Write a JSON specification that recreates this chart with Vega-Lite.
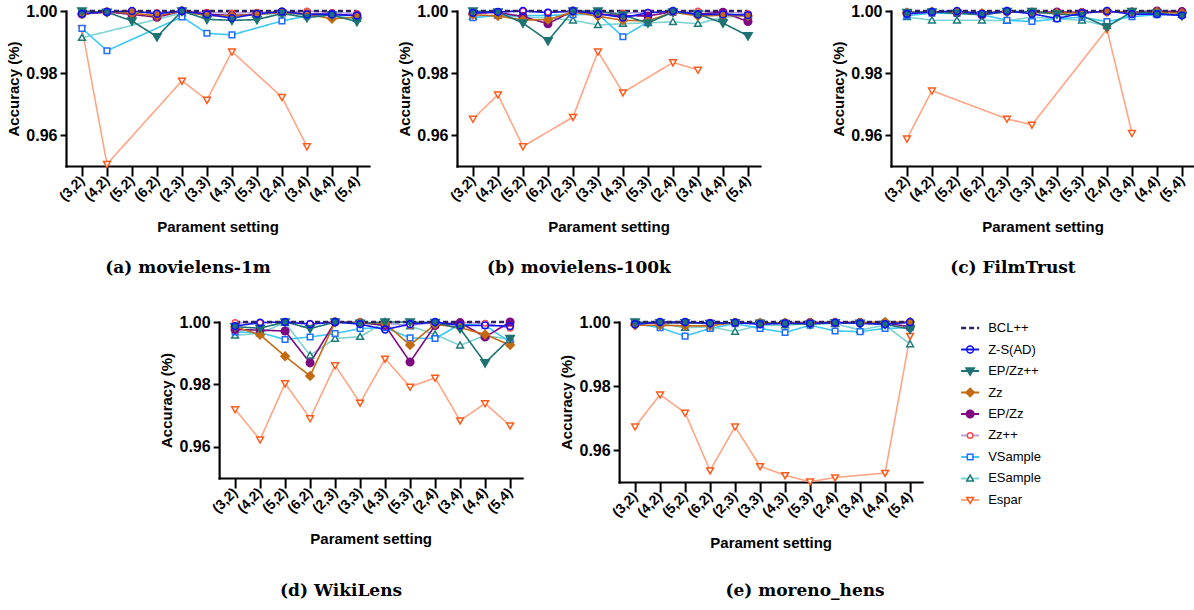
{
"$schema":"https://vega.github.io/schema/vega-lite/v6.json",
"padding":{"left":6,"top":3,"right":2,"bottom":2},
"background":"white",
"config":{"font":"Liberation Sans","view":{"stroke":null},
"axis":{"grid":false,"domainColor":"black","domainWidth":2.2,"domainCap":"square","tickColor":"black","tickWidth":2,"labelFont":"Liberation Sans","labelFontWeight":"bold","labelColor":"black","titleFont":"Liberation Sans","titleFontWeight":"bold","titleColor":"black"},
"axisX":{"tickSize":10,"labelAngle":-45,"labelAlign":"right","labelBaseline":"middle","labelFontSize":14,"labelPadding":2,"titleFontSize":15,"titlePadding":16},
"axisY":{"tickSize":6,"labelFontSize":16,"labelPadding":3,"titleFontSize":15,"titlePadding":4}},
"data":{"values":[
{"p":"a","s":"Espar","x":"(3,2)","v":0.9944},{"p":"a","s":"Espar","x":"(4,2)","v":0.9506},{"p":"a","s":"Espar","x":"(2,3)","v":0.9775},{"p":"a","s":"Espar","x":"(3,3)","v":0.9713},{"p":"a","s":"Espar","x":"(4,3)","v":0.9869},{"p":"a","s":"Espar","x":"(2,4)","v":0.9722},{"p":"a","s":"Espar","x":"(3,4)","v":0.9563},
{"p":"a","s":"ESample","x":"(3,2)","v":0.9914},{"p":"a","s":"ESample","x":"(2,3)","v":0.9993},{"p":"a","s":"ESample","x":"(3,3)","v":0.9988},{"p":"a","s":"ESample","x":"(4,3)","v":0.9986},{"p":"a","s":"ESample","x":"(5,3)","v":0.9988},{"p":"a","s":"ESample","x":"(2,4)","v":0.9993},{"p":"a","s":"ESample","x":"(3,4)","v":0.9988},{"p":"a","s":"ESample","x":"(4,4)","v":0.9986},{"p":"a","s":"ESample","x":"(5,4)","v":0.9975},
{"p":"a","s":"VSample","x":"(3,2)","v":0.9944},{"p":"a","s":"VSample","x":"(4,2)","v":0.9872},{"p":"a","s":"VSample","x":"(2,3)","v":0.9981},{"p":"a","s":"VSample","x":"(3,3)","v":0.9928},{"p":"a","s":"VSample","x":"(4,3)","v":0.9923},{"p":"a","s":"VSample","x":"(2,4)","v":0.9968},{"p":"a","s":"VSample","x":"(3,4)","v":0.9984},{"p":"a","s":"VSample","x":"(4,4)","v":0.9988},{"p":"a","s":"VSample","x":"(5,4)","v":0.9985},
{"p":"a","s":"Zz++","x":"(3,2)","v":0.9993},{"p":"a","s":"Zz++","x":"(4,2)","v":0.9998},{"p":"a","s":"Zz++","x":"(5,2)","v":0.9998},{"p":"a","s":"Zz++","x":"(6,2)","v":0.9995},{"p":"a","s":"Zz++","x":"(2,3)","v":1.0},{"p":"a","s":"Zz++","x":"(3,3)","v":0.9996},{"p":"a","s":"Zz++","x":"(4,3)","v":0.9993},{"p":"a","s":"Zz++","x":"(5,3)","v":0.9996},{"p":"a","s":"Zz++","x":"(2,4)","v":0.9998},{"p":"a","s":"Zz++","x":"(3,4)","v":1.0},{"p":"a","s":"Zz++","x":"(4,4)","v":0.9995},{"p":"a","s":"Zz++","x":"(5,4)","v":0.9992},
{"p":"a","s":"EP/Zz","x":"(3,2)","v":0.999},{"p":"a","s":"EP/Zz","x":"(4,2)","v":0.9997},{"p":"a","s":"EP/Zz","x":"(5,2)","v":0.9989},{"p":"a","s":"EP/Zz","x":"(6,2)","v":0.998},{"p":"a","s":"EP/Zz","x":"(2,3)","v":1.0},{"p":"a","s":"EP/Zz","x":"(3,3)","v":0.999},{"p":"a","s":"EP/Zz","x":"(4,3)","v":0.9985},{"p":"a","s":"EP/Zz","x":"(5,3)","v":0.999},{"p":"a","s":"EP/Zz","x":"(2,4)","v":0.9997},{"p":"a","s":"EP/Zz","x":"(3,4)","v":0.999},{"p":"a","s":"EP/Zz","x":"(4,4)","v":0.999},{"p":"a","s":"EP/Zz","x":"(5,4)","v":0.9985},
{"p":"a","s":"Zz","x":"(3,2)","v":0.999},{"p":"a","s":"Zz","x":"(4,2)","v":0.9997},{"p":"a","s":"Zz","x":"(5,2)","v":0.9993},{"p":"a","s":"Zz","x":"(6,2)","v":0.9985},{"p":"a","s":"Zz","x":"(2,3)","v":1.0},{"p":"a","s":"Zz","x":"(3,3)","v":0.9985},{"p":"a","s":"Zz","x":"(4,3)","v":0.9984},{"p":"a","s":"Zz","x":"(5,3)","v":0.999},{"p":"a","s":"Zz","x":"(2,4)","v":0.9995},{"p":"a","s":"Zz","x":"(3,4)","v":0.999},{"p":"a","s":"Zz","x":"(4,4)","v":0.9975},{"p":"a","s":"Zz","x":"(5,4)","v":0.998},
{"p":"a","s":"EP/Zz++","x":"(3,2)","v":1.0},{"p":"a","s":"EP/Zz++","x":"(4,2)","v":0.9996},{"p":"a","s":"EP/Zz++","x":"(5,2)","v":0.9968},{"p":"a","s":"EP/Zz++","x":"(6,2)","v":0.9917},{"p":"a","s":"EP/Zz++","x":"(2,3)","v":1.0},{"p":"a","s":"EP/Zz++","x":"(3,3)","v":0.9973},{"p":"a","s":"EP/Zz++","x":"(4,3)","v":0.997},{"p":"a","s":"EP/Zz++","x":"(5,3)","v":0.9972},{"p":"a","s":"EP/Zz++","x":"(2,4)","v":0.9992},{"p":"a","s":"EP/Zz++","x":"(3,4)","v":0.9979},{"p":"a","s":"EP/Zz++","x":"(4,4)","v":0.9987},{"p":"a","s":"EP/Zz++","x":"(5,4)","v":0.9966},
{"p":"a","s":"Z-S(AD)","x":"(3,2)","v":0.9991},{"p":"a","s":"Z-S(AD)","x":"(4,2)","v":0.9997},{"p":"a","s":"Z-S(AD)","x":"(5,2)","v":1.0},{"p":"a","s":"Z-S(AD)","x":"(6,2)","v":0.9991},{"p":"a","s":"Z-S(AD)","x":"(2,3)","v":1.0},{"p":"a","s":"Z-S(AD)","x":"(3,3)","v":0.9989},{"p":"a","s":"Z-S(AD)","x":"(4,3)","v":0.9977},{"p":"a","s":"Z-S(AD)","x":"(5,3)","v":0.9991},{"p":"a","s":"Z-S(AD)","x":"(2,4)","v":0.9998},{"p":"a","s":"Z-S(AD)","x":"(3,4)","v":0.9989},{"p":"a","s":"Z-S(AD)","x":"(4,4)","v":0.9989},{"p":"a","s":"Z-S(AD)","x":"(5,4)","v":0.9985},
{"p":"a","s":"BCL++","x":"(3,2)","v":1.0},{"p":"a","s":"BCL++","x":"(4,2)","v":1.0},{"p":"a","s":"BCL++","x":"(5,2)","v":1.0},{"p":"a","s":"BCL++","x":"(6,2)","v":1.0},{"p":"a","s":"BCL++","x":"(2,3)","v":1.0},{"p":"a","s":"BCL++","x":"(3,3)","v":1.0},{"p":"a","s":"BCL++","x":"(4,3)","v":1.0},{"p":"a","s":"BCL++","x":"(5,3)","v":1.0},{"p":"a","s":"BCL++","x":"(2,4)","v":1.0},{"p":"a","s":"BCL++","x":"(3,4)","v":1.0},{"p":"a","s":"BCL++","x":"(4,4)","v":1.0},{"p":"a","s":"BCL++","x":"(5,4)","v":1.0},

{"p":"b","s":"Espar","x":"(3,2)","v":0.9652},{"p":"b","s":"Espar","x":"(4,2)","v":0.973},{"p":"b","s":"Espar","x":"(5,2)","v":0.9563},{"p":"b","s":"Espar","x":"(2,3)","v":0.9658},{"p":"b","s":"Espar","x":"(3,3)","v":0.9869},{"p":"b","s":"Espar","x":"(4,3)","v":0.9737},{"p":"b","s":"Espar","x":"(2,4)","v":0.9834},{"p":"b","s":"Espar","x":"(3,4)","v":0.981},
{"p":"b","s":"ESample","x":"(3,2)","v":0.9982},{"p":"b","s":"ESample","x":"(4,2)","v":0.9986},{"p":"b","s":"ESample","x":"(5,2)","v":0.998},{"p":"b","s":"ESample","x":"(6,2)","v":0.9978},{"p":"b","s":"ESample","x":"(2,3)","v":0.997},{"p":"b","s":"ESample","x":"(3,3)","v":0.9955},{"p":"b","s":"ESample","x":"(4,3)","v":0.9959},{"p":"b","s":"ESample","x":"(5,3)","v":0.9962},{"p":"b","s":"ESample","x":"(2,4)","v":0.9965},{"p":"b","s":"ESample","x":"(3,4)","v":0.9959},{"p":"b","s":"ESample","x":"(4,4)","v":0.998},{"p":"b","s":"ESample","x":"(5,4)","v":0.9985},
{"p":"b","s":"VSample","x":"(3,2)","v":0.9978},{"p":"b","s":"VSample","x":"(4,2)","v":0.9986},{"p":"b","s":"VSample","x":"(5,2)","v":0.9985},{"p":"b","s":"VSample","x":"(6,2)","v":0.9986},{"p":"b","s":"VSample","x":"(2,3)","v":0.9988},{"p":"b","s":"VSample","x":"(3,3)","v":0.999},{"p":"b","s":"VSample","x":"(4,3)","v":0.9917},{"p":"b","s":"VSample","x":"(5,3)","v":0.9965},{"p":"b","s":"VSample","x":"(2,4)","v":0.9995},{"p":"b","s":"VSample","x":"(3,4)","v":0.999},{"p":"b","s":"VSample","x":"(4,4)","v":0.999},{"p":"b","s":"VSample","x":"(5,4)","v":0.9988},
{"p":"b","s":"Zz++","x":"(3,2)","v":0.9995},{"p":"b","s":"Zz++","x":"(4,2)","v":0.9998},{"p":"b","s":"Zz++","x":"(5,2)","v":1.0},{"p":"b","s":"Zz++","x":"(6,2)","v":0.9996},{"p":"b","s":"Zz++","x":"(2,3)","v":0.9998},{"p":"b","s":"Zz++","x":"(3,3)","v":0.9996},{"p":"b","s":"Zz++","x":"(4,3)","v":0.9993},{"p":"b","s":"Zz++","x":"(5,3)","v":0.9996},{"p":"b","s":"Zz++","x":"(2,4)","v":0.9998},{"p":"b","s":"Zz++","x":"(3,4)","v":1.0},{"p":"b","s":"Zz++","x":"(4,4)","v":0.9997},{"p":"b","s":"Zz++","x":"(5,4)","v":0.9992},
{"p":"b","s":"EP/Zz","x":"(3,2)","v":0.9993},{"p":"b","s":"EP/Zz","x":"(4,2)","v":0.9995},{"p":"b","s":"EP/Zz","x":"(5,2)","v":0.9982},{"p":"b","s":"EP/Zz","x":"(6,2)","v":0.9959},{"p":"b","s":"EP/Zz","x":"(2,3)","v":1.0},{"p":"b","s":"EP/Zz","x":"(3,3)","v":0.999},{"p":"b","s":"EP/Zz","x":"(4,3)","v":0.9985},{"p":"b","s":"EP/Zz","x":"(5,3)","v":0.9984},{"p":"b","s":"EP/Zz","x":"(2,4)","v":0.9998},{"p":"b","s":"EP/Zz","x":"(3,4)","v":0.999},{"p":"b","s":"EP/Zz","x":"(4,4)","v":0.9996},{"p":"b","s":"EP/Zz","x":"(5,4)","v":0.9966},
{"p":"b","s":"Zz","x":"(3,2)","v":0.9988},{"p":"b","s":"Zz","x":"(4,2)","v":0.9984},{"p":"b","s":"Zz","x":"(5,2)","v":0.9971},{"p":"b","s":"Zz","x":"(6,2)","v":0.9972},{"p":"b","s":"Zz","x":"(2,3)","v":0.9997},{"p":"b","s":"Zz","x":"(3,3)","v":0.9983},{"p":"b","s":"Zz","x":"(4,3)","v":0.997},{"p":"b","s":"Zz","x":"(5,3)","v":0.9968},{"p":"b","s":"Zz","x":"(2,4)","v":0.9996},{"p":"b","s":"Zz","x":"(3,4)","v":0.9984},{"p":"b","s":"Zz","x":"(4,4)","v":0.9986},{"p":"b","s":"Zz","x":"(5,4)","v":0.9984},
{"p":"b","s":"EP/Zz++","x":"(3,2)","v":1.0},{"p":"b","s":"EP/Zz++","x":"(4,2)","v":0.9997},{"p":"b","s":"EP/Zz++","x":"(5,2)","v":0.9961},{"p":"b","s":"EP/Zz++","x":"(6,2)","v":0.9904},{"p":"b","s":"EP/Zz++","x":"(2,3)","v":1.0},{"p":"b","s":"EP/Zz++","x":"(3,3)","v":1.0},{"p":"b","s":"EP/Zz++","x":"(4,3)","v":0.9987},{"p":"b","s":"EP/Zz++","x":"(5,3)","v":0.9961},{"p":"b","s":"EP/Zz++","x":"(2,4)","v":0.9997},{"p":"b","s":"EP/Zz++","x":"(3,4)","v":0.999},{"p":"b","s":"EP/Zz++","x":"(4,4)","v":0.9961},{"p":"b","s":"EP/Zz++","x":"(5,4)","v":0.992},
{"p":"b","s":"Z-S(AD)","x":"(3,2)","v":0.9994},{"p":"b","s":"Z-S(AD)","x":"(4,2)","v":0.9997},{"p":"b","s":"Z-S(AD)","x":"(5,2)","v":1.0},{"p":"b","s":"Z-S(AD)","x":"(6,2)","v":0.9995},{"p":"b","s":"Z-S(AD)","x":"(2,3)","v":1.0},{"p":"b","s":"Z-S(AD)","x":"(3,3)","v":0.9991},{"p":"b","s":"Z-S(AD)","x":"(4,3)","v":0.9979},{"p":"b","s":"Z-S(AD)","x":"(5,3)","v":0.9994},{"p":"b","s":"Z-S(AD)","x":"(2,4)","v":1.0},{"p":"b","s":"Z-S(AD)","x":"(3,4)","v":0.9989},{"p":"b","s":"Z-S(AD)","x":"(4,4)","v":0.9989},{"p":"b","s":"Z-S(AD)","x":"(5,4)","v":0.9987},
{"p":"b","s":"BCL++","x":"(3,2)","v":1.0},{"p":"b","s":"BCL++","x":"(4,2)","v":1.0},{"p":"b","s":"BCL++","x":"(5,2)","v":1.0},{"p":"b","s":"BCL++","x":"(6,2)","v":1.0},{"p":"b","s":"BCL++","x":"(2,3)","v":1.0},{"p":"b","s":"BCL++","x":"(3,3)","v":1.0},{"p":"b","s":"BCL++","x":"(4,3)","v":1.0},{"p":"b","s":"BCL++","x":"(5,3)","v":1.0},{"p":"b","s":"BCL++","x":"(2,4)","v":1.0},{"p":"b","s":"BCL++","x":"(3,4)","v":1.0},{"p":"b","s":"BCL++","x":"(4,4)","v":1.0},{"p":"b","s":"BCL++","x":"(5,4)","v":1.0},

{"p":"c","s":"Espar","x":"(3,2)","v":0.9588},{"p":"c","s":"Espar","x":"(4,2)","v":0.9743},{"p":"c","s":"Espar","x":"(2,3)","v":0.9652},{"p":"c","s":"Espar","x":"(3,3)","v":0.9633},{"p":"c","s":"Espar","x":"(2,4)","v":0.9941},{"p":"c","s":"Espar","x":"(3,4)","v":0.9606},
{"p":"c","s":"ESample","x":"(3,2)","v":0.9981},{"p":"c","s":"ESample","x":"(4,2)","v":0.997},{"p":"c","s":"ESample","x":"(5,2)","v":0.997},{"p":"c","s":"ESample","x":"(6,2)","v":0.997},{"p":"c","s":"ESample","x":"(2,3)","v":0.9969},{"p":"c","s":"ESample","x":"(3,3)","v":0.998},{"p":"c","s":"ESample","x":"(4,3)","v":0.9975},{"p":"c","s":"ESample","x":"(5,3)","v":0.997},{"p":"c","s":"ESample","x":"(2,4)","v":0.9952},{"p":"c","s":"ESample","x":"(3,4)","v":0.9992},{"p":"c","s":"ESample","x":"(4,4)","v":0.9992},{"p":"c","s":"ESample","x":"(5,4)","v":0.9988},
{"p":"c","s":"VSample","x":"(3,2)","v":0.9985},{"p":"c","s":"VSample","x":"(4,2)","v":0.9993},{"p":"c","s":"VSample","x":"(5,2)","v":0.9992},{"p":"c","s":"VSample","x":"(6,2)","v":0.9988},{"p":"c","s":"VSample","x":"(2,3)","v":0.997},{"p":"c","s":"VSample","x":"(3,3)","v":0.9966},{"p":"c","s":"VSample","x":"(4,3)","v":0.9975},{"p":"c","s":"VSample","x":"(5,3)","v":0.998},{"p":"c","s":"VSample","x":"(2,4)","v":0.9966},{"p":"c","s":"VSample","x":"(3,4)","v":0.9982},{"p":"c","s":"VSample","x":"(4,4)","v":0.9988},{"p":"c","s":"VSample","x":"(5,4)","v":0.9988},
{"p":"c","s":"Zz++","x":"(3,2)","v":0.9996},{"p":"c","s":"Zz++","x":"(4,2)","v":0.9998},{"p":"c","s":"Zz++","x":"(5,2)","v":0.9998},{"p":"c","s":"Zz++","x":"(6,2)","v":0.9995},{"p":"c","s":"Zz++","x":"(2,3)","v":0.9998},{"p":"c","s":"Zz++","x":"(3,3)","v":0.9996},{"p":"c","s":"Zz++","x":"(4,3)","v":0.9995},{"p":"c","s":"Zz++","x":"(5,3)","v":0.9996},{"p":"c","s":"Zz++","x":"(2,4)","v":0.9998},{"p":"c","s":"Zz++","x":"(3,4)","v":0.9997},{"p":"c","s":"Zz++","x":"(4,4)","v":1.0},{"p":"c","s":"Zz++","x":"(5,4)","v":0.9985},
{"p":"c","s":"EP/Zz","x":"(3,2)","v":0.9993},{"p":"c","s":"EP/Zz","x":"(4,2)","v":0.9997},{"p":"c","s":"EP/Zz","x":"(5,2)","v":0.9995},{"p":"c","s":"EP/Zz","x":"(6,2)","v":0.9988},{"p":"c","s":"EP/Zz","x":"(2,3)","v":0.9998},{"p":"c","s":"EP/Zz","x":"(3,3)","v":0.9995},{"p":"c","s":"EP/Zz","x":"(4,3)","v":0.9997},{"p":"c","s":"EP/Zz","x":"(5,3)","v":0.9995},{"p":"c","s":"EP/Zz","x":"(2,4)","v":0.9998},{"p":"c","s":"EP/Zz","x":"(3,4)","v":0.9997},{"p":"c","s":"EP/Zz","x":"(4,4)","v":1.0},{"p":"c","s":"EP/Zz","x":"(5,4)","v":0.9998},
{"p":"c","s":"Zz","x":"(3,2)","v":0.9995},{"p":"c","s":"Zz","x":"(4,2)","v":0.9998},{"p":"c","s":"Zz","x":"(5,2)","v":0.9997},{"p":"c","s":"Zz","x":"(6,2)","v":0.9993},{"p":"c","s":"Zz","x":"(2,3)","v":0.9998},{"p":"c","s":"Zz","x":"(3,3)","v":0.9996},{"p":"c","s":"Zz","x":"(4,3)","v":0.9993},{"p":"c","s":"Zz","x":"(5,3)","v":0.9994},{"p":"c","s":"Zz","x":"(2,4)","v":0.9998},{"p":"c","s":"Zz","x":"(3,4)","v":0.9996},{"p":"c","s":"Zz","x":"(4,4)","v":0.9997},{"p":"c","s":"Zz","x":"(5,4)","v":0.9993},
{"p":"c","s":"EP/Zz++","x":"(3,2)","v":0.9995},{"p":"c","s":"EP/Zz++","x":"(4,2)","v":0.9997},{"p":"c","s":"EP/Zz++","x":"(5,2)","v":0.9993},{"p":"c","s":"EP/Zz++","x":"(6,2)","v":0.9988},{"p":"c","s":"EP/Zz++","x":"(2,3)","v":0.9998},{"p":"c","s":"EP/Zz++","x":"(3,3)","v":0.9998},{"p":"c","s":"EP/Zz++","x":"(4,3)","v":0.999},{"p":"c","s":"EP/Zz++","x":"(5,3)","v":0.9985},{"p":"c","s":"EP/Zz++","x":"(2,4)","v":0.9949},{"p":"c","s":"EP/Zz++","x":"(3,4)","v":0.9998},{"p":"c","s":"EP/Zz++","x":"(4,4)","v":0.9993},{"p":"c","s":"EP/Zz++","x":"(5,4)","v":0.9985},
{"p":"c","s":"Z-S(AD)","x":"(3,2)","v":0.9991},{"p":"c","s":"Z-S(AD)","x":"(4,2)","v":0.9997},{"p":"c","s":"Z-S(AD)","x":"(5,2)","v":1.0},{"p":"c","s":"Z-S(AD)","x":"(6,2)","v":0.9991},{"p":"c","s":"Z-S(AD)","x":"(2,3)","v":1.0},{"p":"c","s":"Z-S(AD)","x":"(3,3)","v":0.9991},{"p":"c","s":"Z-S(AD)","x":"(4,3)","v":0.9976},{"p":"c","s":"Z-S(AD)","x":"(5,3)","v":0.9993},{"p":"c","s":"Z-S(AD)","x":"(2,4)","v":1.0},{"p":"c","s":"Z-S(AD)","x":"(3,4)","v":0.999},{"p":"c","s":"Z-S(AD)","x":"(4,4)","v":0.999},{"p":"c","s":"Z-S(AD)","x":"(5,4)","v":0.9986},
{"p":"c","s":"BCL++","x":"(3,2)","v":1.0},{"p":"c","s":"BCL++","x":"(4,2)","v":1.0},{"p":"c","s":"BCL++","x":"(5,2)","v":1.0},{"p":"c","s":"BCL++","x":"(6,2)","v":1.0},{"p":"c","s":"BCL++","x":"(2,3)","v":1.0},{"p":"c","s":"BCL++","x":"(3,3)","v":1.0},{"p":"c","s":"BCL++","x":"(4,3)","v":1.0},{"p":"c","s":"BCL++","x":"(5,3)","v":1.0},{"p":"c","s":"BCL++","x":"(2,4)","v":1.0},{"p":"c","s":"BCL++","x":"(3,4)","v":1.0},{"p":"c","s":"BCL++","x":"(4,4)","v":1.0},{"p":"c","s":"BCL++","x":"(5,4)","v":1.0},

{"p":"d","s":"Espar","x":"(3,2)","v":0.972},{"p":"d","s":"Espar","x":"(4,2)","v":0.9623},{"p":"d","s":"Espar","x":"(5,2)","v":0.9803},{"p":"d","s":"Espar","x":"(6,2)","v":0.9691},{"p":"d","s":"Espar","x":"(2,3)","v":0.9861},{"p":"d","s":"Espar","x":"(3,3)","v":0.9741},{"p":"d","s":"Espar","x":"(4,3)","v":0.9882},{"p":"d","s":"Espar","x":"(5,3)","v":0.9792},{"p":"d","s":"Espar","x":"(2,4)","v":0.9821},{"p":"d","s":"Espar","x":"(3,4)","v":0.9684},{"p":"d","s":"Espar","x":"(4,4)","v":0.9739},{"p":"d","s":"Espar","x":"(5,4)","v":0.9668},
{"p":"d","s":"ESample","x":"(3,2)","v":0.9957},{"p":"d","s":"ESample","x":"(4,2)","v":0.9964},{"p":"d","s":"ESample","x":"(5,2)","v":0.9998},{"p":"d","s":"ESample","x":"(6,2)","v":0.9893},{"p":"d","s":"ESample","x":"(2,3)","v":0.9947},{"p":"d","s":"ESample","x":"(3,3)","v":0.9953},{"p":"d","s":"ESample","x":"(4,3)","v":1.0},{"p":"d","s":"ESample","x":"(5,3)","v":0.9987},{"p":"d","s":"ESample","x":"(2,4)","v":0.996},{"p":"d","s":"ESample","x":"(3,4)","v":0.9925},{"p":"d","s":"ESample","x":"(4,4)","v":0.9957},{"p":"d","s":"ESample","x":"(5,4)","v":0.9944},
{"p":"d","s":"VSample","x":"(3,2)","v":0.9968},{"p":"d","s":"VSample","x":"(4,2)","v":0.9966},{"p":"d","s":"VSample","x":"(5,2)","v":0.9944},{"p":"d","s":"VSample","x":"(6,2)","v":0.9952},{"p":"d","s":"VSample","x":"(2,3)","v":0.9963},{"p":"d","s":"VSample","x":"(3,3)","v":0.9979},{"p":"d","s":"VSample","x":"(4,3)","v":0.9982},{"p":"d","s":"VSample","x":"(5,3)","v":0.9949},{"p":"d","s":"VSample","x":"(2,4)","v":0.9947},{"p":"d","s":"VSample","x":"(3,4)","v":0.9993},{"p":"d","s":"VSample","x":"(4,4)","v":0.9989},{"p":"d","s":"VSample","x":"(5,4)","v":0.9936},
{"p":"d","s":"Zz++","x":"(3,2)","v":0.9998},{"p":"d","s":"Zz++","x":"(4,2)","v":0.9998},{"p":"d","s":"Zz++","x":"(5,2)","v":1.0},{"p":"d","s":"Zz++","x":"(6,2)","v":0.9996},{"p":"d","s":"Zz++","x":"(2,3)","v":1.0},{"p":"d","s":"Zz++","x":"(3,3)","v":0.9998},{"p":"d","s":"Zz++","x":"(4,3)","v":0.9995},{"p":"d","s":"Zz++","x":"(5,3)","v":0.9989},{"p":"d","s":"Zz++","x":"(2,4)","v":0.9998},{"p":"d","s":"Zz++","x":"(3,4)","v":0.9998},{"p":"d","s":"Zz++","x":"(4,4)","v":0.9996},{"p":"d","s":"Zz++","x":"(5,4)","v":0.998},
{"p":"d","s":"EP/Zz","x":"(3,2)","v":0.9976},{"p":"d","s":"EP/Zz","x":"(4,2)","v":0.9974},{"p":"d","s":"EP/Zz","x":"(5,2)","v":0.9971},{"p":"d","s":"EP/Zz","x":"(6,2)","v":0.9869},{"p":"d","s":"EP/Zz","x":"(2,3)","v":1.0},{"p":"d","s":"EP/Zz","x":"(3,3)","v":0.9998},{"p":"d","s":"EP/Zz","x":"(4,3)","v":0.9989},{"p":"d","s":"EP/Zz","x":"(5,3)","v":0.9872},{"p":"d","s":"EP/Zz","x":"(2,4)","v":0.9989},{"p":"d","s":"EP/Zz","x":"(3,4)","v":0.9998},{"p":"d","s":"EP/Zz","x":"(4,4)","v":0.9952},{"p":"d","s":"EP/Zz","x":"(5,4)","v":1.0},
{"p":"d","s":"Zz","x":"(3,2)","v":0.9985},{"p":"d","s":"Zz","x":"(4,2)","v":0.9959},{"p":"d","s":"Zz","x":"(5,2)","v":0.989},{"p":"d","s":"Zz","x":"(6,2)","v":0.9827},{"p":"d","s":"Zz","x":"(2,3)","v":1.0},{"p":"d","s":"Zz","x":"(3,3)","v":0.9998},{"p":"d","s":"Zz","x":"(4,3)","v":0.9996},{"p":"d","s":"Zz","x":"(5,3)","v":0.9926},{"p":"d","s":"Zz","x":"(2,4)","v":0.9993},{"p":"d","s":"Zz","x":"(3,4)","v":0.9982},{"p":"d","s":"Zz","x":"(4,4)","v":0.996},{"p":"d","s":"Zz","x":"(5,4)","v":0.9926},
{"p":"d","s":"EP/Zz++","x":"(3,2)","v":0.9985},{"p":"d","s":"EP/Zz++","x":"(4,2)","v":0.998},{"p":"d","s":"EP/Zz++","x":"(5,2)","v":1.0},{"p":"d","s":"EP/Zz++","x":"(6,2)","v":0.9979},{"p":"d","s":"EP/Zz++","x":"(2,3)","v":1.0},{"p":"d","s":"EP/Zz++","x":"(3,3)","v":0.9996},{"p":"d","s":"EP/Zz++","x":"(4,3)","v":1.0},{"p":"d","s":"EP/Zz++","x":"(5,3)","v":1.0},{"p":"d","s":"EP/Zz++","x":"(2,4)","v":0.9998},{"p":"d","s":"EP/Zz++","x":"(3,4)","v":0.9979},{"p":"d","s":"EP/Zz++","x":"(4,4)","v":0.9869},{"p":"d","s":"EP/Zz++","x":"(5,4)","v":0.9947},
{"p":"d","s":"Z-S(AD)","x":"(3,2)","v":0.9987},{"p":"d","s":"Z-S(AD)","x":"(4,2)","v":0.9998},{"p":"d","s":"Z-S(AD)","x":"(5,2)","v":1.0},{"p":"d","s":"Z-S(AD)","x":"(6,2)","v":0.9993},{"p":"d","s":"Z-S(AD)","x":"(2,3)","v":1.0},{"p":"d","s":"Z-S(AD)","x":"(3,3)","v":0.9993},{"p":"d","s":"Z-S(AD)","x":"(4,3)","v":0.9976},{"p":"d","s":"Z-S(AD)","x":"(5,3)","v":0.9993},{"p":"d","s":"Z-S(AD)","x":"(2,4)","v":1.0},{"p":"d","s":"Z-S(AD)","x":"(3,4)","v":0.9989},{"p":"d","s":"Z-S(AD)","x":"(4,4)","v":0.9989},{"p":"d","s":"Z-S(AD)","x":"(5,4)","v":0.9987},
{"p":"d","s":"BCL++","x":"(3,2)","v":1.0},{"p":"d","s":"BCL++","x":"(4,2)","v":1.0},{"p":"d","s":"BCL++","x":"(5,2)","v":1.0},{"p":"d","s":"BCL++","x":"(6,2)","v":1.0},{"p":"d","s":"BCL++","x":"(2,3)","v":1.0},{"p":"d","s":"BCL++","x":"(3,3)","v":1.0},{"p":"d","s":"BCL++","x":"(4,3)","v":1.0},{"p":"d","s":"BCL++","x":"(5,3)","v":1.0},{"p":"d","s":"BCL++","x":"(2,4)","v":1.0},{"p":"d","s":"BCL++","x":"(3,4)","v":1.0},{"p":"d","s":"BCL++","x":"(4,4)","v":1.0},{"p":"d","s":"BCL++","x":"(5,4)","v":1.0},

{"p":"e","s":"Espar","x":"(3,2)","v":0.9673},{"p":"e","s":"Espar","x":"(4,2)","v":0.9773},{"p":"e","s":"Espar","x":"(5,2)","v":0.9716},{"p":"e","s":"Espar","x":"(6,2)","v":0.9536},{"p":"e","s":"Espar","x":"(2,3)","v":0.9673},{"p":"e","s":"Espar","x":"(3,3)","v":0.9549},{"p":"e","s":"Espar","x":"(4,3)","v":0.9521},{"p":"e","s":"Espar","x":"(5,3)","v":0.9501},{"p":"e","s":"Espar","x":"(2,4)","v":0.9514},{"p":"e","s":"Espar","x":"(4,4)","v":0.9528},{"p":"e","s":"Espar","x":"(5,4)","v":0.9956},
{"p":"e","s":"ESample","x":"(3,2)","v":0.9998},{"p":"e","s":"ESample","x":"(4,2)","v":0.9995},{"p":"e","s":"ESample","x":"(5,2)","v":0.9982},{"p":"e","s":"ESample","x":"(6,2)","v":0.9985},{"p":"e","s":"ESample","x":"(2,3)","v":0.997},{"p":"e","s":"ESample","x":"(3,3)","v":0.999},{"p":"e","s":"ESample","x":"(4,3)","v":0.999},{"p":"e","s":"ESample","x":"(5,3)","v":0.9995},{"p":"e","s":"ESample","x":"(2,4)","v":0.9995},{"p":"e","s":"ESample","x":"(3,4)","v":0.9975},{"p":"e","s":"ESample","x":"(4,4)","v":0.999},{"p":"e","s":"ESample","x":"(5,4)","v":0.9931},
{"p":"e","s":"VSample","x":"(3,2)","v":0.9995},{"p":"e","s":"VSample","x":"(4,2)","v":0.9982},{"p":"e","s":"VSample","x":"(5,2)","v":0.9956},{"p":"e","s":"VSample","x":"(6,2)","v":0.998},{"p":"e","s":"VSample","x":"(2,3)","v":0.9995},{"p":"e","s":"VSample","x":"(3,3)","v":0.998},{"p":"e","s":"VSample","x":"(4,3)","v":0.9967},{"p":"e","s":"VSample","x":"(5,3)","v":0.999},{"p":"e","s":"VSample","x":"(2,4)","v":0.9972},{"p":"e","s":"VSample","x":"(3,4)","v":0.997},{"p":"e","s":"VSample","x":"(4,4)","v":0.998},{"p":"e","s":"VSample","x":"(5,4)","v":0.9982},
{"p":"e","s":"Zz++","x":"(3,2)","v":0.9997},{"p":"e","s":"Zz++","x":"(4,2)","v":0.9998},{"p":"e","s":"Zz++","x":"(5,2)","v":0.9998},{"p":"e","s":"Zz++","x":"(6,2)","v":0.9997},{"p":"e","s":"Zz++","x":"(2,3)","v":0.9998},{"p":"e","s":"Zz++","x":"(3,3)","v":0.9998},{"p":"e","s":"Zz++","x":"(4,3)","v":0.9998},{"p":"e","s":"Zz++","x":"(5,3)","v":1.0},{"p":"e","s":"Zz++","x":"(2,4)","v":0.9998},{"p":"e","s":"Zz++","x":"(3,4)","v":1.0},{"p":"e","s":"Zz++","x":"(4,4)","v":0.9997},{"p":"e","s":"Zz++","x":"(5,4)","v":0.9996},
{"p":"e","s":"EP/Zz","x":"(3,2)","v":0.9995},{"p":"e","s":"EP/Zz","x":"(4,2)","v":0.9998},{"p":"e","s":"EP/Zz","x":"(5,2)","v":0.9998},{"p":"e","s":"EP/Zz","x":"(6,2)","v":0.9996},{"p":"e","s":"EP/Zz","x":"(2,3)","v":0.9998},{"p":"e","s":"EP/Zz","x":"(3,3)","v":0.9997},{"p":"e","s":"EP/Zz","x":"(4,3)","v":0.9997},{"p":"e","s":"EP/Zz","x":"(5,3)","v":0.9998},{"p":"e","s":"EP/Zz","x":"(2,4)","v":0.9998},{"p":"e","s":"EP/Zz","x":"(3,4)","v":0.9998},{"p":"e","s":"EP/Zz","x":"(4,4)","v":0.9997},{"p":"e","s":"EP/Zz","x":"(5,4)","v":0.9985},
{"p":"e","s":"Zz","x":"(3,2)","v":0.999},{"p":"e","s":"Zz","x":"(4,2)","v":0.999},{"p":"e","s":"Zz","x":"(5,2)","v":0.9988},{"p":"e","s":"Zz","x":"(6,2)","v":0.9988},{"p":"e","s":"Zz","x":"(2,3)","v":0.9998},{"p":"e","s":"Zz","x":"(3,3)","v":0.9997},{"p":"e","s":"Zz","x":"(4,3)","v":0.9998},{"p":"e","s":"Zz","x":"(5,3)","v":0.9998},{"p":"e","s":"Zz","x":"(2,4)","v":0.9998},{"p":"e","s":"Zz","x":"(3,4)","v":0.9998},{"p":"e","s":"Zz","x":"(4,4)","v":1.0},{"p":"e","s":"Zz","x":"(5,4)","v":1.0},
{"p":"e","s":"EP/Zz++","x":"(3,2)","v":1.0},{"p":"e","s":"EP/Zz++","x":"(4,2)","v":0.9998},{"p":"e","s":"EP/Zz++","x":"(5,2)","v":0.9998},{"p":"e","s":"EP/Zz++","x":"(6,2)","v":0.9995},{"p":"e","s":"EP/Zz++","x":"(2,3)","v":0.9998},{"p":"e","s":"EP/Zz++","x":"(3,3)","v":0.9996},{"p":"e","s":"EP/Zz++","x":"(4,3)","v":0.9995},{"p":"e","s":"EP/Zz++","x":"(5,3)","v":0.9993},{"p":"e","s":"EP/Zz++","x":"(2,4)","v":0.9998},{"p":"e","s":"EP/Zz++","x":"(3,4)","v":0.9996},{"p":"e","s":"EP/Zz++","x":"(4,4)","v":0.9993},{"p":"e","s":"EP/Zz++","x":"(5,4)","v":0.9978},
{"p":"e","s":"Z-S(AD)","x":"(3,2)","v":0.9993},{"p":"e","s":"Z-S(AD)","x":"(4,2)","v":1.0},{"p":"e","s":"Z-S(AD)","x":"(5,2)","v":1.0},{"p":"e","s":"Z-S(AD)","x":"(6,2)","v":0.9996},{"p":"e","s":"Z-S(AD)","x":"(2,3)","v":0.9998},{"p":"e","s":"Z-S(AD)","x":"(3,3)","v":0.9993},{"p":"e","s":"Z-S(AD)","x":"(4,3)","v":0.9996},{"p":"e","s":"Z-S(AD)","x":"(5,3)","v":0.9996},{"p":"e","s":"Z-S(AD)","x":"(2,4)","v":0.9998},{"p":"e","s":"Z-S(AD)","x":"(3,4)","v":0.9996},{"p":"e","s":"Z-S(AD)","x":"(4,4)","v":0.9993},{"p":"e","s":"Z-S(AD)","x":"(5,4)","v":1.0},
{"p":"e","s":"BCL++","x":"(3,2)","v":1.0},{"p":"e","s":"BCL++","x":"(4,2)","v":1.0},{"p":"e","s":"BCL++","x":"(5,2)","v":1.0},{"p":"e","s":"BCL++","x":"(6,2)","v":1.0},{"p":"e","s":"BCL++","x":"(2,3)","v":1.0},{"p":"e","s":"BCL++","x":"(3,3)","v":1.0},{"p":"e","s":"BCL++","x":"(4,3)","v":1.0},{"p":"e","s":"BCL++","x":"(5,3)","v":1.0},{"p":"e","s":"BCL++","x":"(2,4)","v":1.0},{"p":"e","s":"BCL++","x":"(3,4)","v":1.0},{"p":"e","s":"BCL++","x":"(4,4)","v":1.0},{"p":"e","s":"BCL++","x":"(5,4)","v":1.0}
]},
"center":true,
"spacing":37,
"vconcat":[
{"hconcat":[
 {"hconcat":[
  {"width":303,"height":155,"transform":[{"filter":"datum.p==='a'"}],
   "title":{"text":"(a) movielens-1m","orient":"bottom","anchor":"middle","frame":"bounds","font":"DejaVu Serif","fontWeight":"bold","fontSize":17,"color":"black","offset":26},
   "encoding":{"x":{"field":"x","type":"ordinal","sort":["(3,2)","(4,2)","(5,2)","(6,2)","(2,3)","(3,3)","(4,3)","(5,3)","(2,4)","(3,4)","(4,4)","(5,4)"],"scale":{"type":"point","padding":0.56,"align":0.57},"axis":{"title":"Parament setting"}},
    "y":{"field":"v","type":"quantitative","scale":{"domain":[0.95,1],"zero":false,"nice":false},"axis":{"values":[0.96,0.98,1],"format":".2f","title":"Accuracy  (%)"}}},
   "layer":[
    {"mark":{"type":"line"},"encoding":{"color":{"field":"s","type":"nominal","scale":{"domain":["BCL++","Z-S(AD)","EP/Zz++","Zz","EP/Zz","Zz++","VSample","ESample","Espar"],"range":["#2d2060","#1515f0","#1d7373","#c46a12","#7d0a82","#b8a2e0","#3cc8f5","#7dd3d3","#ffa585"]},"legend":null},"strokeDash":{"field":"s","type":"nominal","scale":{"domain":["BCL++","Z-S(AD)","EP/Zz++","Zz","EP/Zz","Zz++","VSample","ESample","Espar"],"range":[[5,3],[1,0],[1,0],[1,0],[1,0],[1,0],[1,0],[1,0],[1,0]]},"legend":null},"strokeWidth":{"condition":{"test":"datum.s==='BCL++'","value":2.6},"value":1.6}}},
    {"mark":{"type":"point","size":400,"opacity":1,"strokeWidth":1.5},"encoding":{
     "shape":{"field":"s","type":"nominal","scale":{"domain":["BCL++","Z-S(AD)","EP/Zz++","Zz","EP/Zz","Zz++","VSample","ESample","Espar"],"range":["M0,0","M0.34,0A0.34,0.34 0 1,1 -0.34,0A0.34,0.34 0 1,1 0.34,0Z","M-0.42,-0.3L0.42,-0.3L0,0.42Z","M0,-0.42L0.42,0L0,0.42L-0.42,0Z","M0.38,0A0.38,0.38 0 1,1 -0.38,0A0.38,0.38 0 1,1 0.38,0Z","M0.28,0A0.28,0.28 0 1,1 -0.28,0A0.28,0.28 0 1,1 0.28,0Z","M-0.28,-0.28H0.28V0.28H-0.28Z","M-0.34,0.26L0.34,0.26L0,-0.34Z","M-0.34,-0.26L0.34,-0.26L0,0.34Z"]},"legend":null},
     "stroke":{"field":"s","type":"nominal","scale":{"domain":["BCL++","Z-S(AD)","EP/Zz++","Zz","EP/Zz","Zz++","VSample","ESample","Espar"],"range":["transparent","#0b0bff","#1d7373","#c46a12","#7d0a82","#ff4a4a","#1f6cff","#1d7a7a","#ff5a1a"]},"legend":null},
     "fill":{"field":"s","type":"nominal","scale":{"domain":["BCL++","Z-S(AD)","EP/Zz++","Zz","EP/Zz","Zz++","VSample","ESample","Espar"],"range":["transparent","transparent","#1d7373","#c46a12","#7d0a82","#ffffff","#ffffff","#ffffff","#ffffff"]},"legend":null}}}
   ]},
  {"width":303,"height":155,"transform":[{"filter":"datum.p==='b'"}],
   "title":{"text":"(b) movielens-100k","orient":"bottom","anchor":"middle","frame":"bounds","font":"DejaVu Serif","fontWeight":"bold","fontSize":17,"color":"black","offset":26},
   "encoding":{"x":{"field":"x","type":"ordinal","sort":["(3,2)","(4,2)","(5,2)","(6,2)","(2,3)","(3,3)","(4,3)","(5,3)","(2,4)","(3,4)","(4,4)","(5,4)"],"scale":{"type":"point","padding":0.56,"align":0.57},"axis":{"title":"Parament setting"}},
    "y":{"field":"v","type":"quantitative","scale":{"domain":[0.95,1],"zero":false,"nice":false},"axis":{"values":[0.96,0.98,1],"format":".2f","title":"Accuracy  (%)"}}},
   "layer":[
    {"mark":{"type":"line"},"encoding":{"color":{"field":"s","type":"nominal","scale":{"domain":["BCL++","Z-S(AD)","EP/Zz++","Zz","EP/Zz","Zz++","VSample","ESample","Espar"],"range":["#2d2060","#1515f0","#1d7373","#c46a12","#7d0a82","#b8a2e0","#3cc8f5","#7dd3d3","#ffa585"]},"legend":null},"strokeDash":{"field":"s","type":"nominal","scale":{"domain":["BCL++","Z-S(AD)","EP/Zz++","Zz","EP/Zz","Zz++","VSample","ESample","Espar"],"range":[[5,3],[1,0],[1,0],[1,0],[1,0],[1,0],[1,0],[1,0],[1,0]]},"legend":null},"strokeWidth":{"condition":{"test":"datum.s==='BCL++'","value":2.6},"value":1.6}}},
    {"mark":{"type":"point","size":400,"opacity":1,"strokeWidth":1.5},"encoding":{
     "shape":{"field":"s","type":"nominal","scale":{"domain":["BCL++","Z-S(AD)","EP/Zz++","Zz","EP/Zz","Zz++","VSample","ESample","Espar"],"range":["M0,0","M0.34,0A0.34,0.34 0 1,1 -0.34,0A0.34,0.34 0 1,1 0.34,0Z","M-0.42,-0.3L0.42,-0.3L0,0.42Z","M0,-0.42L0.42,0L0,0.42L-0.42,0Z","M0.38,0A0.38,0.38 0 1,1 -0.38,0A0.38,0.38 0 1,1 0.38,0Z","M0.28,0A0.28,0.28 0 1,1 -0.28,0A0.28,0.28 0 1,1 0.28,0Z","M-0.28,-0.28H0.28V0.28H-0.28Z","M-0.34,0.26L0.34,0.26L0,-0.34Z","M-0.34,-0.26L0.34,-0.26L0,0.34Z"]},"legend":null},
     "stroke":{"field":"s","type":"nominal","scale":{"domain":["BCL++","Z-S(AD)","EP/Zz++","Zz","EP/Zz","Zz++","VSample","ESample","Espar"],"range":["transparent","#0b0bff","#1d7373","#c46a12","#7d0a82","#ff4a4a","#1f6cff","#1d7a7a","#ff5a1a"]},"legend":null},
     "fill":{"field":"s","type":"nominal","scale":{"domain":["BCL++","Z-S(AD)","EP/Zz++","Zz","EP/Zz","Zz++","VSample","ESample","Espar"],"range":["transparent","transparent","#1d7373","#c46a12","#7d0a82","#ffffff","#ffffff","#ffffff","#ffffff"]},"legend":null}}}
   ]}
 ],"spacing":28},
 {"width":303,"height":155,"transform":[{"filter":"datum.p==='c'"}],
   "title":{"text":"(c) FilmTrust","orient":"bottom","anchor":"middle","frame":"bounds","font":"DejaVu Serif","fontWeight":"bold","fontSize":17,"color":"black","offset":26},
   "encoding":{"x":{"field":"x","type":"ordinal","sort":["(3,2)","(4,2)","(5,2)","(6,2)","(2,3)","(3,3)","(4,3)","(5,3)","(2,4)","(3,4)","(4,4)","(5,4)"],"scale":{"type":"point","padding":0.56,"align":0.57},"axis":{"title":"Parament setting"}},
    "y":{"field":"v","type":"quantitative","scale":{"domain":[0.95,1],"zero":false,"nice":false},"axis":{"values":[0.96,0.98,1],"format":".2f","title":"Accuracy  (%)"}}},
   "layer":[
    {"mark":{"type":"line"},"encoding":{"color":{"field":"s","type":"nominal","scale":{"domain":["BCL++","Z-S(AD)","EP/Zz++","Zz","EP/Zz","Zz++","VSample","ESample","Espar"],"range":["#2d2060","#1515f0","#1d7373","#c46a12","#7d0a82","#b8a2e0","#3cc8f5","#7dd3d3","#ffa585"]},"legend":null},"strokeDash":{"field":"s","type":"nominal","scale":{"domain":["BCL++","Z-S(AD)","EP/Zz++","Zz","EP/Zz","Zz++","VSample","ESample","Espar"],"range":[[5,3],[1,0],[1,0],[1,0],[1,0],[1,0],[1,0],[1,0],[1,0]]},"legend":null},"strokeWidth":{"condition":{"test":"datum.s==='BCL++'","value":2.6},"value":1.6}}},
    {"mark":{"type":"point","size":400,"opacity":1,"strokeWidth":1.5},"encoding":{
     "shape":{"field":"s","type":"nominal","scale":{"domain":["BCL++","Z-S(AD)","EP/Zz++","Zz","EP/Zz","Zz++","VSample","ESample","Espar"],"range":["M0,0","M0.34,0A0.34,0.34 0 1,1 -0.34,0A0.34,0.34 0 1,1 0.34,0Z","M-0.42,-0.3L0.42,-0.3L0,0.42Z","M0,-0.42L0.42,0L0,0.42L-0.42,0Z","M0.38,0A0.38,0.38 0 1,1 -0.38,0A0.38,0.38 0 1,1 0.38,0Z","M0.28,0A0.28,0.28 0 1,1 -0.28,0A0.28,0.28 0 1,1 0.28,0Z","M-0.28,-0.28H0.28V0.28H-0.28Z","M-0.34,0.26L0.34,0.26L0,-0.34Z","M-0.34,-0.26L0.34,-0.26L0,0.34Z"]},"legend":null},
     "stroke":{"field":"s","type":"nominal","scale":{"domain":["BCL++","Z-S(AD)","EP/Zz++","Zz","EP/Zz","Zz++","VSample","ESample","Espar"],"range":["transparent","#0b0bff","#1d7373","#c46a12","#7d0a82","#ff4a4a","#1f6cff","#1d7a7a","#ff5a1a"]},"legend":null},
     "fill":{"field":"s","type":"nominal","scale":{"domain":["BCL++","Z-S(AD)","EP/Zz++","Zz","EP/Zz","Zz++","VSample","ESample","Espar"],"range":["transparent","transparent","#1d7373","#c46a12","#7d0a82","#ffffff","#ffffff","#ffffff","#ffffff"]},"legend":null}}}
   ]}
],"spacing":71},
{"hconcat":[
  {"width":303,"height":156,"transform":[{"filter":"datum.p==='d'"}],
   "title":{"text":"(d) WikiLens","orient":"bottom","anchor":"middle","frame":"bounds","font":"DejaVu Serif","fontWeight":"bold","fontSize":17,"color":"black","offset":37},
   "encoding":{"x":{"field":"x","type":"ordinal","sort":["(3,2)","(4,2)","(5,2)","(6,2)","(2,3)","(3,3)","(4,3)","(5,3)","(2,4)","(3,4)","(4,4)","(5,4)"],"scale":{"type":"point","padding":0.56,"align":0.57},"axis":{"title":"Parament setting"}},
    "y":{"field":"v","type":"quantitative","scale":{"domain":[0.95,1],"zero":false,"nice":false},"axis":{"values":[0.96,0.98,1],"format":".2f","title":"Accuracy  (%)"}}},
   "layer":[
    {"mark":{"type":"line"},"encoding":{"color":{"field":"s","type":"nominal","scale":{"domain":["BCL++","Z-S(AD)","EP/Zz++","Zz","EP/Zz","Zz++","VSample","ESample","Espar"],"range":["#2d2060","#1515f0","#1d7373","#c46a12","#7d0a82","#b8a2e0","#3cc8f5","#7dd3d3","#ffa585"]},"legend":null},"strokeDash":{"field":"s","type":"nominal","scale":{"domain":["BCL++","Z-S(AD)","EP/Zz++","Zz","EP/Zz","Zz++","VSample","ESample","Espar"],"range":[[5,3],[1,0],[1,0],[1,0],[1,0],[1,0],[1,0],[1,0],[1,0]]},"legend":null},"strokeWidth":{"condition":{"test":"datum.s==='BCL++'","value":2.6},"value":1.6}}},
    {"mark":{"type":"point","size":400,"opacity":1,"strokeWidth":1.5},"encoding":{
     "shape":{"field":"s","type":"nominal","scale":{"domain":["BCL++","Z-S(AD)","EP/Zz++","Zz","EP/Zz","Zz++","VSample","ESample","Espar"],"range":["M0,0","M0.34,0A0.34,0.34 0 1,1 -0.34,0A0.34,0.34 0 1,1 0.34,0Z","M-0.42,-0.3L0.42,-0.3L0,0.42Z","M0,-0.42L0.42,0L0,0.42L-0.42,0Z","M0.38,0A0.38,0.38 0 1,1 -0.38,0A0.38,0.38 0 1,1 0.38,0Z","M0.28,0A0.28,0.28 0 1,1 -0.28,0A0.28,0.28 0 1,1 0.28,0Z","M-0.28,-0.28H0.28V0.28H-0.28Z","M-0.34,0.26L0.34,0.26L0,-0.34Z","M-0.34,-0.26L0.34,-0.26L0,0.34Z"]},"legend":null},
     "stroke":{"field":"s","type":"nominal","scale":{"domain":["BCL++","Z-S(AD)","EP/Zz++","Zz","EP/Zz","Zz++","VSample","ESample","Espar"],"range":["transparent","#0b0bff","#1d7373","#c46a12","#7d0a82","#ff4a4a","#1f6cff","#1d7a7a","#ff5a1a"]},"legend":null},
     "fill":{"field":"s","type":"nominal","scale":{"domain":["BCL++","Z-S(AD)","EP/Zz++","Zz","EP/Zz","Zz++","VSample","ESample","Espar"],"range":["transparent","transparent","#1d7373","#c46a12","#7d0a82","#ffffff","#ffffff","#ffffff","#ffffff"]},"legend":null}}}
   ]},
 {"width":303,"height":160,"transform":[{"filter":"datum.p==='e'"}],
   "title":{"text":"(e) moreno_hens","orient":"bottom","anchor":"middle","frame":"bounds","font":"DejaVu Serif","fontWeight":"bold","fontSize":17,"color":"black","offset":33,"dx":64},
   "encoding":{"x":{"field":"x","type":"ordinal","sort":["(3,2)","(4,2)","(5,2)","(6,2)","(2,3)","(3,3)","(4,3)","(5,3)","(2,4)","(3,4)","(4,4)","(5,4)"],"scale":{"type":"point","padding":0.56,"align":0.57},"axis":{"title":"Parament setting"}},
    "y":{"field":"v","type":"quantitative","scale":{"domain":[0.95,1],"zero":false,"nice":false},"axis":{"values":[0.96,0.98,1],"format":".2f","title":"Accuracy  (%)"}}},
   "layer":[
    {"mark":{"type":"line"},"encoding":{"color":{"field":"s","type":"nominal","scale":{"domain":["BCL++","Z-S(AD)","EP/Zz++","Zz","EP/Zz","Zz++","VSample","ESample","Espar"],"range":["#2d2060","#1515f0","#1d7373","#c46a12","#7d0a82","#b8a2e0","#3cc8f5","#7dd3d3","#ffa585"]},"legend":null},"strokeDash":{"field":"s","type":"nominal","scale":{"domain":["BCL++","Z-S(AD)","EP/Zz++","Zz","EP/Zz","Zz++","VSample","ESample","Espar"],"range":[[5,3],[1,0],[1,0],[1,0],[1,0],[1,0],[1,0],[1,0],[1,0]]},"legend":null},"strokeWidth":{"condition":{"test":"datum.s==='BCL++'","value":2.6},"value":1.6}}},
    {"mark":{"type":"point","size":400,"opacity":1,"strokeWidth":1.5},"encoding":{
     "shape":{"field":"s","type":"nominal","scale":{"domain":["BCL++","Z-S(AD)","EP/Zz++","Zz","EP/Zz","Zz++","VSample","ESample","Espar"],"range":["M0,0","M0.34,0A0.34,0.34 0 1,1 -0.34,0A0.34,0.34 0 1,1 0.34,0Z","M-0.42,-0.3L0.42,-0.3L0,0.42Z","M0,-0.42L0.42,0L0,0.42L-0.42,0Z","M0.38,0A0.38,0.38 0 1,1 -0.38,0A0.38,0.38 0 1,1 0.38,0Z","M0.28,0A0.28,0.28 0 1,1 -0.28,0A0.28,0.28 0 1,1 0.28,0Z","M-0.28,-0.28H0.28V0.28H-0.28Z","M-0.34,0.26L0.34,0.26L0,-0.34Z","M-0.34,-0.26L0.34,-0.26L0,0.34Z"]},"legend":null},
     "stroke":{"field":"s","type":"nominal","scale":{"domain":["BCL++","Z-S(AD)","EP/Zz++","Zz","EP/Zz","Zz++","VSample","ESample","Espar"],"range":["transparent","#0b0bff","#1d7373","#c46a12","#7d0a82","#ff4a4a","#1f6cff","#1d7a7a","#ff5a1a"]},"legend":null},
     "fill":{"field":"s","type":"nominal","scale":{"domain":["BCL++","Z-S(AD)","EP/Zz++","Zz","EP/Zz","Zz++","VSample","ESample","Espar"],"range":["transparent","transparent","#1d7373","#c46a12","#7d0a82","#ffffff","#ffffff","#ffffff","#ffffff"]},"legend":null}}}
   ]},
 {"width":78,"height":184,
  "data":{"values":[{"s":"BCL++"},{"s":"Z-S(AD)"},{"s":"EP/Zz++"},{"s":"Zz"},{"s":"EP/Zz"},{"s":"Zz++"},{"s":"VSample"},{"s":"ESample"},{"s":"Espar"}]},
  "encoding":{"y":{"field":"s","type":"nominal","scale":{"type":"point","domain":["BCL++","Z-S(AD)","EP/Zz++","Zz","EP/Zz","Zz++","VSample","ESample","Espar"],"padding":0.28},"axis":null}},
  "layer":[
   {"mark":{"type":"rule"},"encoding":{"x":{"datum":0,"type":"quantitative","scale":{"domain":[0,4.333]},"axis":null},"x2":{"datum":1},
     "color":{"field":"s","type":"nominal","scale":{"domain":["BCL++","Z-S(AD)","EP/Zz++","Zz","EP/Zz","Zz++","VSample","ESample","Espar"],"range":["#2d2060","#1515f0","#1d7373","#c46a12","#7d0a82","#b8a2e0","#3cc8f5","#7dd3d3","#ffa585"]},"legend":null},
     "strokeDash":{"field":"s","type":"nominal","scale":{"domain":["BCL++","Z-S(AD)","EP/Zz++","Zz","EP/Zz","Zz++","VSample","ESample","Espar"],"range":[[5,3],[1,0],[1,0],[1,0],[1,0],[1,0],[1,0],[1,0],[1,0]]},"legend":null},
     "strokeWidth":{"condition":{"test":"datum.s==='BCL++'","value":2.6},"value":2}}},
   {"mark":{"type":"point","size":400,"opacity":1,"strokeWidth":1.5},"encoding":{"x":{"datum":0.5,"type":"quantitative","scale":{"domain":[0,4.333]},"axis":null},
     "shape":{"field":"s","type":"nominal","scale":{"domain":["BCL++","Z-S(AD)","EP/Zz++","Zz","EP/Zz","Zz++","VSample","ESample","Espar"],"range":["M0,0","M0.34,0A0.34,0.34 0 1,1 -0.34,0A0.34,0.34 0 1,1 0.34,0Z","M-0.42,-0.3L0.42,-0.3L0,0.42Z","M0,-0.42L0.42,0L0,0.42L-0.42,0Z","M0.38,0A0.38,0.38 0 1,1 -0.38,0A0.38,0.38 0 1,1 0.38,0Z","M0.28,0A0.28,0.28 0 1,1 -0.28,0A0.28,0.28 0 1,1 0.28,0Z","M-0.28,-0.28H0.28V0.28H-0.28Z","M-0.34,0.26L0.34,0.26L0,-0.34Z","M-0.34,-0.26L0.34,-0.26L0,0.34Z"]},"legend":null},
     "stroke":{"field":"s","type":"nominal","scale":{"domain":["BCL++","Z-S(AD)","EP/Zz++","Zz","EP/Zz","Zz++","VSample","ESample","Espar"],"range":["transparent","#0b0bff","#1d7373","#c46a12","#7d0a82","#ff4a4a","#1f6cff","#1d7a7a","#ff5a1a"]},"legend":null},
     "fill":{"field":"s","type":"nominal","scale":{"domain":["BCL++","Z-S(AD)","EP/Zz++","Zz","EP/Zz","Zz++","VSample","ESample","Espar"],"range":["transparent","transparent","#1d7373","#c46a12","#7d0a82","#ffffff","#ffffff","#ffffff","#ffffff"]},"legend":null}}},
   {"mark":{"type":"text","align":"left","baseline":"middle","font":"Liberation Sans","fontSize":13,"color":"black"},"encoding":{"x":{"datum":1.5,"type":"quantitative","scale":{"domain":[0,4.333]},"axis":null},"text":{"field":"s"}}}
  ]}
],"spacing":37}
]
}
